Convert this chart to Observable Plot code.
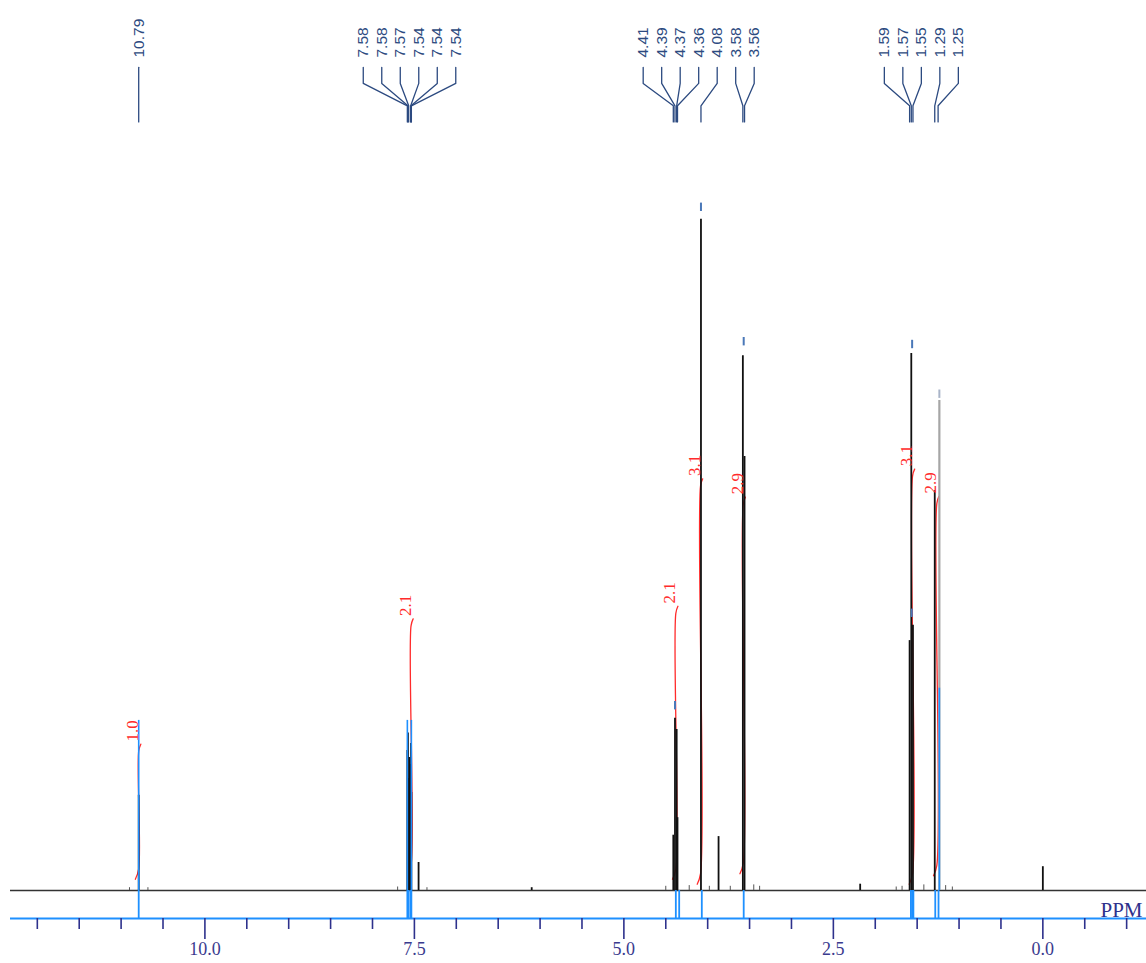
<!DOCTYPE html>
<html>
<head>
<meta charset="utf-8">
<script src="https://cdn.jsdelivr.net/npm/d3@7"></script>
<script src="https://cdn.jsdelivr.net/npm/@observablehq/plot@0.6"></script>
<style>
  html, body { margin: 0; padding: 0; background: #fff; }
  #chart svg { display: block; }
</style>
</head>
<body>
<div id="chart"></div>
<script>
// ---- data (ppm, relative intensity) ----
const pickGroups = [
  [10.79],
  [7.584, 7.577, 7.568, 7.544, 7.540, 7.536],
  [4.41, 4.39, 4.37, 4.36, 4.08, 3.58, 3.56],
  [1.59, 1.57, 1.55, 1.29, 1.25]
];

const peakPPM    = [10.79, 7.584, 7.577, 7.568, 7.560, 7.544, 7.540, 7.536, 7.45, 6.10, 4.41, 4.39, 4.37, 4.36, 4.08, 3.87, 3.58, 3.56, 2.18, 1.59, 1.57, 1.55, 1.29, 0.00];
const peakHeight = [13.6, 20, 22.5, 16, 19, 18, 21, 14, 4.0, 0.4, 7.9, 24.6, 23, 10.4, 95.9, 7.7, 76.4, 62, 0.9, 35.7, 76.7, 37.9, 57.1, 3.4];

const grayPPM    = [1.235];
const grayHeight = [70];

const noisePPM    = [10.9, 10.68, 7.7, 7.35, 4.5, 4.22, 3.98, 3.73, 3.45, 3.38, 1.75, 1.68, 1.42, 1.16, 1.08];
const noiseHeight = [0.4, 0.4, 0.5, 0.4, 0.6, 0.7, 0.6, 0.6, 0.8, 0.6, 0.5, 0.6, 0.8, 0.7, 0.5];

const blueOverPPM = [10.79, 7.584, 7.536, 1.235];
const blueOverTop = [24.3, 24.3, 24.3, 28.9];

const capPPM = [4.08, 3.57, 1.56, 4.39, 1.565];
const capY   = [97.6, 78.4, 78.0, 26.4, 39.6];
const grayCapPPM = [1.235];
const grayCapY   = [70.9];

const markerPPM = [10.79, 7.584, 7.577, 7.568, 7.544, 7.540, 7.536, 4.38, 4.34, 4.07, 3.57, 1.575, 1.56, 1.545, 1.284, 1.245];

const intPPM   = [10.79, 7.54, 4.38, 4.085, 3.575, 1.555, 1.265];
const intLow   = [2.1, 2.6, 2.1, 1.4, 2.9, 1.4, 2.6];
const intHigh  = [20.7, 38.6, 40.4, 58.6, 56.0, 60.0, 56.1];
const intValue = ["1.0", "2.1", "2.1", "3.1", "2.9", "3.1", "2.9"];

const majorTicks = [10.0, 7.5, 5.0, 2.5, 0.0];
const minorTicks = [12.0, 11.5, 11.0, 10.5, 9.5, 9.0, 8.5, 8.0, 7.0, 6.5, 6.0, 5.5, 4.5, 4.0, 3.5, 3.0, 2.0, 1.5, 1.0, 0.5, -0.5, -1.0];

// ---- derived tables ----
const navy = "#2c4a80";
const axisNavy = "#2e318c";
const blue = "#1e90ff";
const red = "#ff2b2b";
const spacing = 0.2208; // label spacing in ppm

const labelRows = [];
const connRows = [];
let id = 0;
pickGroups.forEach(g => {
  const n = g.length;
  const mean = d3.mean(g);
  g.forEach((p, i) => {
    const lx = mean + ((n - 1) / 2 - i) * spacing;
    labelRows.push({lx, t: d3.format(".2f")(p)});
    connRows.push({id, x: lx, y: 117.6});
    connRows.push({id, x: lx, y: n > 1 ? 115.3 : 113});
    connRows.push({id, x: p, y: n > 1 ? 112.1 : 113});
    connRows.push({id, x: p, y: 109.8});
    id++;
  });
});

const peaks = peakPPM.map((x, i) => ({x, h: peakHeight[i]}));
const grays = grayPPM.map((x, i) => ({x, h: grayHeight[i]}));
const noise = noisePPM.map((x, i) => ({x, h: noiseHeight[i]}));
const blueOver = blueOverPPM.map((x, i) => ({x, h: blueOverTop[i]}));
const caps = capPPM.map((x, i) => ({x, y: capY[i]}));
const grayCaps = grayCapPPM.map((x, i) => ({x, y: grayCapY[i]}));

const intRows = [];
intPPM.forEach((x, i) => {
  intRows.push({i, x: x + 0.04, y: intLow[i] - 0.5});
  intRows.push({i, x: x, y: intLow[i] + 1.0});
  intRows.push({i, x: x, y: intHigh[i] - 0.8});
  intRows.push({i, x: x - 0.025, y: intHigh[i] + 0.2});
});
const intLabels = intPPM.map((x, i) => ({x: x + 0.07, y: intHigh[i] + 0.6, t: intValue[i]}));

const chart = Plot.plot({
  width: 1146,
  height: 963,
  marginLeft: 10,
  marginRight: 0,
  marginTop: 8,
  marginBottom: 45,
  x: {domain: [12.32, -1.237]},
  y: {domain: [-4, 126], axis: null},
  style: {fontFamily: "Liberation Serif", background: "white", overflow: "visible"},
  marks: [
    // baseline
    Plot.ruleY([0], {stroke: "#333", strokeWidth: 1.3}),
    // integrals (behind peaks)
    Plot.line(intRows, {x: "x", y: "y", z: "i", stroke: red, strokeWidth: 1.3, curve: "catmull-rom"}),
    // noise & peaks
    Plot.ruleX(noise, {x: "x", y1: 0, y2: "h", stroke: "#555", strokeWidth: 1}),
    Plot.ruleX(grays, {x: "x", y1: 0, y2: "h", stroke: "#a6a6a6", strokeWidth: 2.2}),
    Plot.ruleX(peaks, {x: "x", y1: 0, y2: "h", stroke: "#111", strokeWidth: 1.8}),
    // peak-pick overlays
    Plot.ruleX(blueOver, {x: "x", y1: 0, y2: "h", stroke: blue, strokeWidth: 1.6}),
    Plot.ruleX(caps, {x: "x", y1: d => d.y - 0.6, y2: d => d.y + 0.6, stroke: "#4a78b8", strokeWidth: 2}),
    Plot.ruleX(grayCaps, {x: "x", y1: d => d.y - 0.6, y2: d => d.y + 0.6, stroke: "#a9b4c8", strokeWidth: 2}),
    Plot.ruleX(markerPPM, {x: d => d, y1: -4, y2: 0, stroke: blue, strokeWidth: 1.8}),
    // integral values
    Plot.text(intLabels, {x: "x", y: "y", text: "t", rotate: -90, textAnchor: "start", lineAnchor: "middle", fill: red, fontSize: 17, fontFamily: "Liberation Serif"}),
    // peak labels & connectors
    Plot.line(connRows, {x: "x", y: "y", z: "id", stroke: navy, strokeWidth: 1.3}),
    Plot.text(labelRows, {x: "lx", y: () => 119, text: "t", rotate: -90, textAnchor: "start", lineAnchor: "middle", fill: navy, fontSize: 15.5, fontFamily: "Liberation Sans"}),
    // axis
    Plot.ruleY([-4], {stroke: blue, strokeWidth: 2}),
    Plot.axisX(minorTicks, {tickSize: 11, tickFormat: () => "", stroke: axisNavy, strokeWidth: 1.6, label: null}),
    Plot.axisX(majorTicks, {tickSize: 21, tickPadding: 3, tickFormat: d3.format(".1f"), stroke: axisNavy, strokeWidth: 1.6, fill: "#3a3a8e", fontSize: 18, label: null}),
    Plot.text(["PPM"], {text: d => d, frameAnchor: "bottom-right", textAnchor: "end", lineAnchor: "bottom", dx: -4, dy: -2, fill: "#2e318c", fontSize: 21, fontFamily: "Liberation Serif"})
  ]
});
document.getElementById("chart").appendChild(chart);
</script>
</body>
</html>
